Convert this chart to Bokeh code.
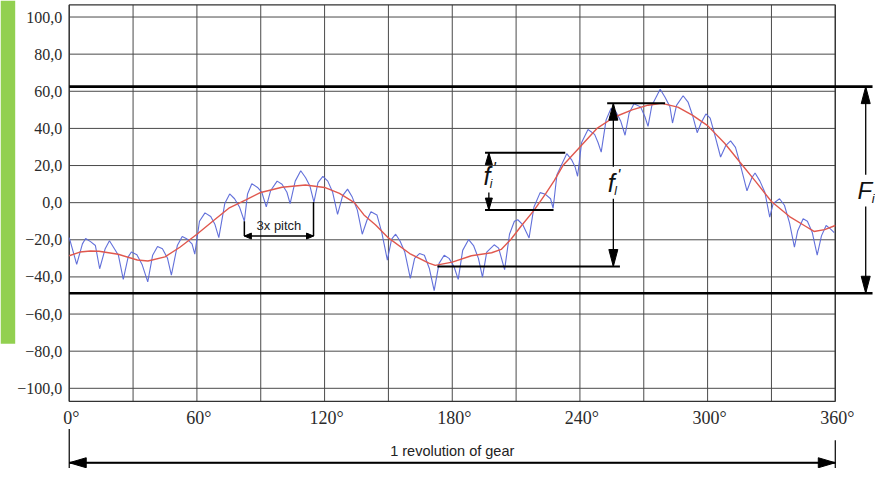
from bokeh.plotting import figure
from bokeh.models import Range1d
from bokeh.core.properties import value
from bokeh.embed import file_html
from bokeh.resources import INLINE

# ---------------- data ----------------
# measured transmission error (blue), degrees of rotation -> deviation
BLUE_POINTS = [
    (0.0, -18.8), (3.5, -33.2), (6.2, -22.2), (7.7, -19.3), (10.0, -21.0), (12.3, -23.1),
    (14.3, -35.6), (16.9, -24.8), (18.9, -20.5), (20.8, -24.0), (23.1, -28.3), (25.4, -41.3),
    (27.7, -29.2), (29.2, -26.6), (31.8, -28.0), (34.3, -33.5), (36.9, -42.7), (39.2, -28.3),
    (41.5, -23.6), (43.8, -24.8), (46.2, -30.0), (48.0, -39.0), (50.8, -23.1), (53.1, -18.2),
    (55.4, -19.6), (57.7, -22.2), (59.0, -27.7), (61.2, -10.0), (63.8, -5.5), (66.5, -7.5),
    (68.5, -11.8), (70.3, -18.8), (73.1, -0.5), (75.4, 4.7), (77.7, 2.1), (80.0, -2.3),
    (82.3, -10.0), (83.8, 4.7), (85.8, 10.2), (88.5, 8.2), (90.5, 5.6), (92.6, -2.3),
    (94.6, 6.4), (97.7, 11.6), (100.0, 9.9), (102.3, 5.6), (103.8, -0.5), (106.2, 11.6),
    (108.8, 17.2), (111.1, 13.4), (113.1, 9.0), (115.0, 0.3), (116.9, 10.8), (119.2, 14.2),
    (121.5, 11.6), (123.8, 5.6), (126.1, -6.3), (128.5, 3.8), (130.8, 7.3), (133.0, 3.0),
    (135.4, -4.0), (137.7, -17.0), (140.0, -9.2), (141.8, -4.9), (144.6, -6.6), (146.9, -16.1),
    (149.5, -30.9), (151.5, -19.6), (153.4, -17.0), (155.4, -20.5), (157.7, -26.6), (160.3, -40.8),
    (162.3, -30.0), (164.6, -27.4), (166.9, -28.3), (169.2, -35.3), (171.5, -47.4), (173.8, -32.7),
    (176.2, -28.3), (178.5, -30.0), (180.8, -34.4), (182.8, -41.3), (184.9, -25.7), (187.7, -19.9),
    (190.0, -23.1), (192.3, -30.0), (194.2, -40.1), (196.2, -26.6), (199.7, -22.7), (201.8, -24.5),
    (204.6, -36.1), (206.9, -17.0), (209.2, -10.0), (210.8, -9.2), (213.1, -11.8), (216.1, -19.0),
    (218.4, -2.3), (221.3, 5.4), (223.8, 4.5), (226.2, 2.1), (227.4, -3.0), (229.2, 15.1),
    (233.8, 26.4), (236.2, 22.9), (237.7, 19.4), (238.9, 14.2), (240.8, 32.4), (243.8, 39.4),
    (246.9, 36.8), (248.5, 32.4), (250.0, 27.2), (252.3, 44.6), (254.6, 50.7), (256.9, 49.0),
    (259.2, 43.8), (261.2, 36.3), (263.1, 48.1), (265.4, 53.3), (268.5, 51.6), (270.5, 46.4),
    (272.0, 41.1), (273.8, 52.4), (277.7, 61.1), (280.0, 56.8), (282.3, 51.6), (283.5, 42.9),
    (285.4, 52.4), (288.5, 57.6), (290.8, 54.2), (293.1, 46.4), (295.1, 37.7), (296.9, 42.9),
    (299.2, 47.8), (301.2, 45.5), (303.1, 37.7), (306.1, 24.6), (308.5, 30.7), (310.8, 33.3),
    (313.1, 29.8), (315.4, 20.3), (318.5, 6.4), (320.8, 13.4), (322.3, 16.0), (324.6, 11.6),
    (326.9, 5.6), (329.2, -7.8), (330.8, -0.5), (333.8, 2.1), (336.1, -1.4), (338.5, -10.9),
    (340.8, -24.0), (342.3, -15.3), (344.9, -8.7), (346.9, -10.0), (349.2, -16.1), (351.5, -28.3),
    (353.5, -17.9), (355.7, -12.3), (357.7, -14.1), (359.5, -16.1),
]
BLUE_DEG = [d for d, v in BLUE_POINTS]
BLUE_VAL = [v for d, v in BLUE_POINTS]

# long-wave component (red)
RED_DEG = [0, 5, 10, 14, 23, 32, 37, 45, 52, 60, 68, 75, 83, 90, 100, 111, 120, 127, 134,
           138.5, 144, 150, 160, 169, 172, 180, 189, 198.5, 203, 207.7, 212.3, 218.5, 224, 228,
           232, 240, 248, 256, 264.5, 272, 278.5, 286, 293, 300, 308, 315.4, 323, 330, 338.5,
           346, 350, 355, 360]
RED_VAL = [-28.6, -26.6, -26.0, -26.2, -27.8, -30.9, -31.4, -29.2, -24.0, -17.0, -9.5, -3.0,
           1.5, 5.5, 8.3, 9.5, 8.2, 5.0, 0.0, -6.6, -12.0, -19.0, -27.4, -32.6, -33.8, -32.0,
           -28.6, -27.0, -25.2, -19.6, -12.7, -4.0, 5.0, 12.0, 20.0, 30.0, 40.0, 46.0, 50.0,
           52.5, 53.5, 51.5, 47.0, 41.5, 32.0, 21.5, 10.8, 0.6, -7.5, -12.7, -15.5, -14.5, -12.3]

X_TICKS = [0, 60, 120, 180, 240, 300, 360]
X_TICK_LABELS = ["0°", "60°", "120°", "180°", "240°", "300°", "360°"]
X_GRID = [0, 30, 60, 90, 120, 150, 180, 210, 240, 270, 300, 330, 360]
Y_TICKS = [100, 80, 60, 40, 20, 0, -20, -40, -60, -80, -100]
Y_TICK_LABELS = ["100,0", "80,0", "60,0", "40,0", "20,0", "0,0",
                 "\u221220,0", "\u221240,0", "\u221260,0", "\u221280,0", "\u2212100,0"]

# annotation levels (deviation units) and angles (degrees)
FI_TOP, FI_BOT = 62.5, -48.8            # total composite deviation F_i
PITCH_X0, PITCH_X1, PITCH_Y = 82.3, 114.8, -18.0
PITCH_TOP0, PITCH_TOP1 = -10.0, 0.3
SHORT_X0, SHORT_TOP_X1, SHORT_BOT_X1 = 195.4, 233.1, 227.6
SHORT_TOP, SHORT_BOT, SHORT_ARROW_X = 26.9, -4.0, 197.2
LONG_TOP_X0, LONG_TOP_X1, LONG_TOP = 252.8, 280.0, 53.6
LONG_BOT_X0, LONG_BOT_X1, LONG_BOT = 173.0, 258.8, -34.4
LONG_ARROW_X = 255.7

# ---------------- layout ----------------
W, H = 875, 468
X_START, X_END = -32.3, 378.9
Y_START, Y_END = -143.2, 108.9
PXX = W / (X_END - X_START)
PXY = H / (Y_END - Y_START)
BOX_L, BOX_R, BOX_B, BOX_T = 0, 360, -107.0, 106.5
FI_LINE_END, FI_ARROW_X = 377.5, 374.3
REV_Y, REV_TXT_Y = -140.1, -134.0

GRID = "#4a4a4a"
BLUE = "#5a68d8"
RED = "#e0584e"
SERIF = value("serif")
SANS = value("Liberation Sans")

p = figure(width=W, height=H, x_range=Range1d(X_START, X_END), y_range=Range1d(Y_START, Y_END),
           x_axis_type=None, y_axis_type=None, toolbar_location=None, output_backend="svg",
           min_border=0)
p.outline_line_color = None
p.background_fill_color = "white"
p.border_fill_color = "white"

# green side bar
p.quad(left=X_START, right=X_START + 14.7 / PXX, top=Y_END, bottom=-76.0,
       fill_color="#92d050", line_color=None)

# grid
n = len(X_GRID)
p.segment(x0=X_GRID, y0=[BOX_B] * n, x1=X_GRID, y1=[BOX_T] * n, line_color=GRID, line_width=1)
m = len(Y_TICKS)
p.segment(x0=[BOX_L] * m, y0=Y_TICKS, x1=[BOX_R] * m, y1=Y_TICKS, line_color=GRID, line_width=1)
p.quad(left=BOX_L, right=BOX_R, bottom=BOX_B, top=BOX_T, fill_color=None,
       line_color="#333333", line_width=1.3)

# tick labels
p.text(x=[BOX_L] * m, y=Y_TICKS, text=Y_TICK_LABELS, text_align="right", text_baseline="middle",
       x_offset=-7, text_font=SERIF, text_font_size="16px", text_color="#2a2a2a")
p.text(x=X_TICKS, y=[BOX_B] * len(X_TICKS), text=X_TICK_LABELS, text_align="center",
       text_baseline="top", x_offset=2, y_offset=7, text_font=SERIF, text_font_size="18px",
       text_color="#2a2a2a")

# curves
p.line(BLUE_DEG, BLUE_VAL, line_color=BLUE, line_width=1.1, line_alpha=0.95)
p.line(RED_DEG, RED_VAL, line_color=RED, line_width=1.4)

# ---------------- annotations ----------------
K = "black"
heads_x, heads_y = [], []


def head(x, y, direction, length, width):
    if direction == "up":
        xs = [x - width / 2 / PXX, x, x + width / 2 / PXX]
        ys = [y - length / PXY, y, y - length / PXY]
    elif direction == "down":
        xs = [x - width / 2 / PXX, x, x + width / 2 / PXX]
        ys = [y + length / PXY, y, y + length / PXY]
    elif direction == "left":
        xs = [x + length / PXX, x, x + length / PXX]
        ys = [y - width / 2 / PXY, y, y + width / 2 / PXY]
    else:
        xs = [x - length / PXX, x, x - length / PXX]
        ys = [y - width / 2 / PXY, y, y + width / 2 / PXY]
    heads_x.append(xs)
    heads_y.append(ys)


# F_i band lines and arrow
p.segment(x0=[BOX_L, BOX_L], y0=[FI_TOP, FI_BOT], x1=[FI_LINE_END, FI_LINE_END], y1=[FI_TOP, FI_BOT],
          line_color=K, line_width=2.6)
p.segment(x0=[FI_ARROW_X, FI_ARROW_X], y0=[FI_TOP, -2.1], x1=[FI_ARROW_X, FI_ARROW_X], y1=[15.1, FI_BOT],
          line_color=K, line_width=1.3)
head(FI_ARROW_X, FI_TOP, "up", 17, 9)
head(FI_ARROW_X, FI_BOT, "down", 17, 9)
p.text(x=[FI_ARROW_X], y=[6.5], text=["F"], text_align="center", text_baseline="middle",
       x_offset=-1, text_font=SANS, text_font_style="italic", text_font_size="24px", text_color="#111111")
p.text(x=[FI_ARROW_X], y=[6.5], text=["i"], text_align="left", text_baseline="middle",
       x_offset=6, y_offset=8, text_font=SANS, text_font_style="italic", text_font_size="13px",
       text_color="#111111")

# 3x pitch
p.segment(x0=[PITCH_X0, PITCH_X1, PITCH_X0], y0=[PITCH_TOP0, PITCH_TOP1, PITCH_Y],
          x1=[PITCH_X0, PITCH_X1, PITCH_X1], y1=[PITCH_Y, PITCH_Y, PITCH_Y], line_color=K, line_width=1.5)
head(PITCH_X0, PITCH_Y, "left", 7, 6)
head(PITCH_X1, PITCH_Y, "right", 7, 6)
p.text(x=[(PITCH_X0 + PITCH_X1) / 2], y=[-12.2], text=["3x pitch"], text_align="center",
       text_baseline="middle", text_font=SANS, text_font_size="13px", text_color="#222222")

# short-term f_i'
p.segment(x0=[SHORT_X0, SHORT_X0], y0=[SHORT_TOP, SHORT_BOT], x1=[SHORT_TOP_X1, SHORT_BOT_X1],
          y1=[SHORT_TOP, SHORT_BOT], line_color=K, line_width=2)
p.segment(x0=[SHORT_ARROW_X, SHORT_ARROW_X], y0=[SHORT_TOP, 5.5], x1=[SHORT_ARROW_X, SHORT_ARROW_X],
          y1=[22.5, SHORT_BOT], line_color=K, line_width=1.3)
head(SHORT_ARROW_X, SHORT_TOP, "up", 12, 7)
head(SHORT_ARROW_X, SHORT_BOT, "down", 12, 7)
p.text(x=[SHORT_ARROW_X], y=[14.6], text=["f"], text_align="center", text_baseline="middle",
       x_offset=-2, text_font=SANS, text_font_style="italic", text_font_size="25px", text_color="#111111")
p.text(x=[SHORT_ARROW_X], y=[14.6], text=["'"], text_align="left", text_baseline="middle",
       x_offset=4, y_offset=-7, text_font=SANS, text_font_style="italic", text_font_size="16px",
       text_color="#111111")
p.text(x=[SHORT_ARROW_X], y=[14.6], text=["i"], text_align="left", text_baseline="middle",
       x_offset=1, y_offset=8, text_font=SANS, text_font_style="italic", text_font_size="12px",
       text_color="#111111")

# long-term f_l'
p.segment(x0=[LONG_TOP_X0, LONG_BOT_X0], y0=[LONG_TOP, LONG_BOT], x1=[LONG_TOP_X1, LONG_BOT_X1],
          y1=[LONG_TOP, LONG_BOT], line_color=K, line_width=2)
p.segment(x0=[LONG_ARROW_X, LONG_ARROW_X], y0=[LONG_TOP, 2.1], x1=[LONG_ARROW_X, LONG_ARROW_X],
          y1=[19.3, LONG_BOT], line_color=K, line_width=1.3)
head(LONG_ARROW_X, LONG_TOP, "up", 17, 9)
head(LONG_ARROW_X, LONG_BOT, "down", 17, 9)
p.text(x=[LONG_ARROW_X], y=[10.8], text=["f"], text_align="center", text_baseline="middle",
       x_offset=-2, text_font=SANS, text_font_style="italic", text_font_size="25px", text_color="#111111")
p.text(x=[LONG_ARROW_X], y=[10.8], text=["'"], text_align="left", text_baseline="middle",
       x_offset=4, y_offset=-7, text_font=SANS, text_font_style="italic", text_font_size="16px",
       text_color="#111111")
p.text(x=[LONG_ARROW_X], y=[10.8], text=["l"], text_align="left", text_baseline="middle",
       x_offset=1, y_offset=8, text_font=SANS, text_font_style="italic", text_font_size="12px",
       text_color="#111111")

# one revolution
p.segment(x0=[BOX_L, BOX_R, BOX_L], y0=[-121.9, -128.0, REV_Y], x1=[BOX_L, BOX_R, BOX_R],
          y1=[Y_START, Y_START, REV_Y], line_color=K, line_width=1.2)
p.segment(x0=[BOX_L], y0=[REV_Y], x1=[BOX_R], y1=[REV_Y], line_color=K, line_width=2)
head(BOX_L, REV_Y, "left", 17, 10)
head(BOX_R, REV_Y, "right", 17, 10)
p.text(x=[(BOX_L + BOX_R) / 2], y=[REV_TXT_Y], text=["1 revolution of gear"], text_align="center",
       text_baseline="middle", text_font=SANS, text_font_size="14.5px", text_color="#222222")

p.patches(heads_x, heads_y, fill_color=K, line_color=K, line_width=1)

open("out.html", "w").write(file_html(p, INLINE))
